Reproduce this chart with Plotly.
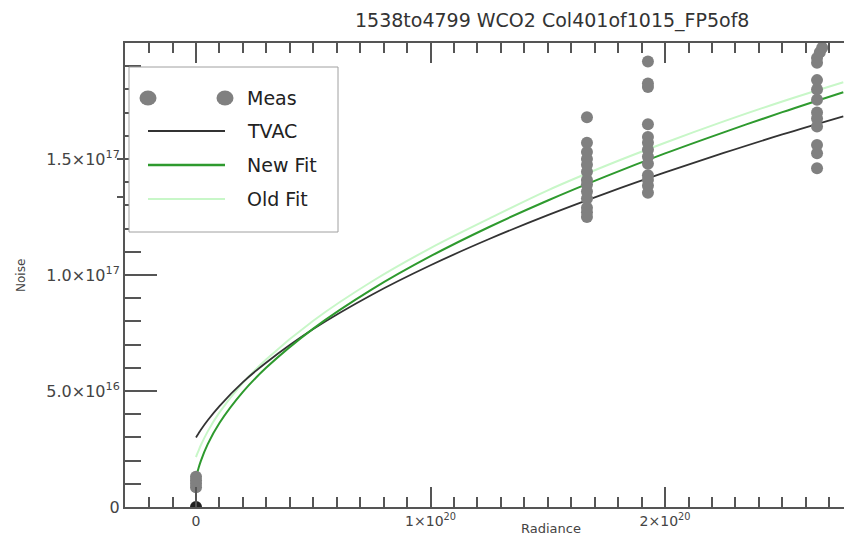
import plotly.graph_objects as go

# ---------------- data ----------------
fit_x = [0, 0.005e20, 0.01e20, 0.02e20, 0.05e20, 0.1e20, 0.2e20, 0.3e20, 0.5e20, 0.75e20,
         1.0e20, 1.25e20, 1.5e20, 1.75e20, 2.0e20, 2.25e20, 2.5e20, 2.76e20]
tvac_y = [3.00e16, 3.08e16, 3.16e16, 3.32e16, 3.74e16, 4.35e16, 5.38e16, 6.23e16, 7.67e16, 9.15e16,
          1.042e17, 1.155e17, 1.258e17, 1.353e17, 1.442e17, 1.526e17, 1.606e17, 1.684e17]
newfit_y = [1.25e16, 1.46e16, 1.65e16, 1.97e16, 2.71e16, 3.62e16, 4.96e16, 6.01e16, 7.69e16, 9.38e16,
            1.081e17, 1.207e17, 1.321e17, 1.426e17, 1.524e17, 1.615e17, 1.702e17, 1.788e17]
oldfit_y = [2.15e16, 2.29e16, 2.41e16, 2.65e16, 3.26e16, 4.08e16, 5.35e16, 6.37e16, 8.03e16, 9.72e16,
            1.116e17, 1.243e17, 1.365e17, 1.472e17, 1.570e17, 1.662e17, 1.748e17, 1.831e17]

meas_x = ([0.0] * 4
          + [1.667e20] * 13
          + [1.927e20] * 13
          + [2.670e20, 2.660e20] + [2.648e20] * 11)
meas_y = ([0.85e16, 1.0e16, 1.15e16, 1.3e16]
          + [1.68e17, 1.57e17, 1.53e17, 1.50e17, 1.475e17, 1.445e17, 1.41e17, 1.39e17,
             1.36e17, 1.33e17, 1.29e17, 1.27e17, 1.25e17]
          + [1.92e17, 1.825e17, 1.81e17, 1.65e17, 1.595e17, 1.57e17, 1.54e17, 1.51e17,
             1.48e17, 1.43e17, 1.41e17, 1.385e17, 1.355e17]
          + [1.98e17, 1.96e17, 1.935e17, 1.915e17, 1.84e17, 1.80e17, 1.755e17, 1.70e17,
             1.675e17, 1.64e17, 1.56e17, 1.525e17, 1.46e17])

stem_x = [0, 0]
stem_y = [0, 0.8e16]

x_tickvals = [0, 1e20, 2e20]
x_ticktext = ["0", "1×10<sup>20</sup>", "2×10<sup>20</sup>"]
y_tickvals = [0, 5e16, 1e17, 1.5e17]
y_ticktext = ["0", "5.0×10<sup>16</sup>", "1.0×10<sup>17</sup>", "1.5×10<sup>17</sup>"]
x_minor = [i * 1e19 for i in range(-3, 28)]
y_minor = [i * 1e16 for i in range(0, 21)]

title_text = "1538to4799 WCO2 Col401of1015_FP5of8"
legend_names = ["Meas", "TVAC", "New Fit", "Old Fit"]

# ---------------- styling ----------------
W, H = 844, 536
L, R, T, B = 125, 0, 43, 29
PW, PH = W - L - R, H - T - B
AX = "#555555"
GRAY = "#808080"
BLACK = "#333333"
GREEN = "#2e9a2e"
LIGHT = "#c8f7c8"
FONT = "DejaVu Sans"


def px(xp):
    return (xp - L) / PW


def py(yp):
    return (H - B - yp) / PH


fig = go.Figure()
fig.add_trace(go.Scatter(x=fit_x, y=oldfit_y, mode="lines", line=dict(color=LIGHT, width=2, shape="spline"),
                         showlegend=False))
fig.add_trace(go.Scatter(x=fit_x, y=tvac_y, mode="lines", line=dict(color=BLACK, width=1.8, shape="spline"),
                         showlegend=False))
fig.add_trace(go.Scatter(x=fit_x, y=newfit_y, mode="lines", line=dict(color=GREEN, width=2, shape="spline"),
                         showlegend=False))
fig.add_trace(go.Scatter(x=stem_x, y=stem_y, mode="lines", line=dict(color="#222222", width=2),
                         showlegend=False))
fig.add_trace(go.Scatter(x=[stem_x[0]], y=[stem_y[0]], mode="markers",
                         marker=dict(color="#222222", size=12), showlegend=False))
fig.add_trace(go.Scatter(x=meas_x, y=meas_y, mode="markers",
                         marker=dict(color=GRAY, size=12, line=dict(width=0)), showlegend=False))

shapes = []
annotations = []

# legend box
shapes.append(dict(type="rect", xref="paper", yref="paper", x0=px(129), x1=px(338), y0=py(232), y1=py(67),
                   fillcolor="white", line=dict(color="#a0a0a0", width=1), layer="above"))
row_y = [98, 131, 165, 199]
for cx in (148, 225):
    shapes.append(dict(type="circle", xref="paper", yref="paper", x0=px(cx - 8.5), x1=px(cx + 8.5),
                       y0=py(row_y[0] + 7.5), y1=py(row_y[0] - 7.5), fillcolor=GRAY,
                       line=dict(width=0), layer="above"))
for yy, col, wd in zip(row_y[1:], [BLACK, GREEN, LIGHT], [2, 2.5, 2]):
    shapes.append(dict(type="line", xref="paper", yref="paper", x0=px(148), x1=px(225), y0=py(yy), y1=py(yy),
                       line=dict(color=col, width=wd), layer="above"))
for yy, name in zip(row_y, legend_names):
    annotations.append(dict(text=name, xref="paper", yref="paper", x=px(245), y=py(yy), xanchor="left",
                            yanchor="middle", showarrow=False, font=dict(family=FONT, size=19, color="#222222")))

# small outside ticks seen left of the legend box
for yy in (159, 197):
    shapes.append(dict(type="line", xref="paper", yref="paper", x0=px(117), x1=px(125), y0=py(yy), y1=py(yy),
                       line=dict(color=AX, width=2), layer="above"))

# title & axis titles
annotations.append(dict(text=title_text, xref="paper", yref="paper", x=px(552), y=py(20), xanchor="center",
                        yanchor="middle", showarrow=False, font=dict(family=FONT, size=19, color="#333333")))
annotations.append(dict(text="Radiance", xref="paper", yref="paper", x=px(551), y=py(528), xanchor="center",
                        yanchor="middle", showarrow=False, font=dict(family=FONT, size=13, color="#444444")))
annotations.append(dict(text="Noise", xref="paper", yref="paper", x=px(21), y=py(275), xanchor="center",
                        yanchor="middle", textangle=-90, showarrow=False,
                        font=dict(family=FONT, size=12, color="#444444")))

fig.update_layout(
    width=W, height=H, margin=dict(l=L, r=R, t=T, b=B, pad=0),
    paper_bgcolor="white", plot_bgcolor="white", showlegend=False,
    shapes=shapes, annotations=annotations,
    font=dict(family=FONT, color="#444444"),
    xaxis=dict(range=[-0.3028e20, 2.763e20], showgrid=False, zeroline=False,
               showline=True, linecolor=AX, linewidth=2, mirror="ticks",
               ticks="inside", ticklen=20, tickwidth=2, tickcolor=AX,
               tickmode="array", tickvals=x_tickvals, ticktext=x_ticktext,
               tickfont=dict(family=FONT, size=14, color="#444444"),
               minor=dict(tickmode="array", tickvals=x_minor, ticks="inside", ticklen=10,
                          tickwidth=2, tickcolor=AX, showgrid=False)),
    yaxis=dict(range=[0, 2.0e17], showgrid=False, zeroline=False,
               showline=True, linecolor=AX, linewidth=2, mirror=False,
               ticks="inside", ticklen=32, tickwidth=2, tickcolor=AX,
               tickmode="array", tickvals=y_tickvals, ticktext=y_ticktext,
               tickfont=dict(family=FONT, size=16, color="#444444"),
               minor=dict(tickmode="array", tickvals=y_minor, ticks="inside", ticklen=16,
                          tickwidth=2, tickcolor=AX, showgrid=False)),
)

fig.write_html("out.html")
